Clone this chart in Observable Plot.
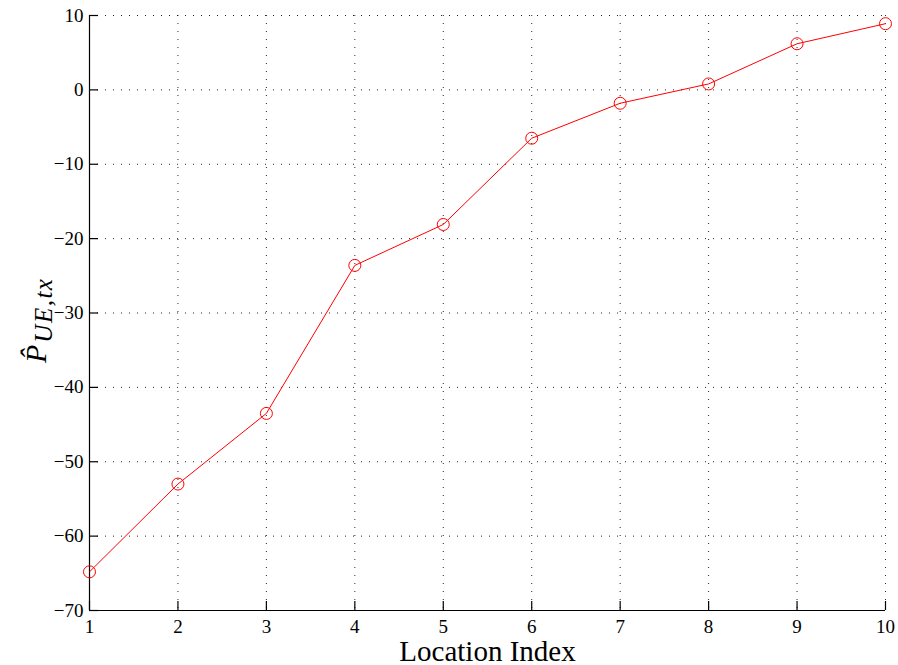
<!DOCTYPE html>
<html>
<head>
<meta charset="utf-8">
<script src="https://cdn.jsdelivr.net/npm/d3@7"></script>
<script src="https://cdn.jsdelivr.net/npm/@observablehq/plot@0.6"></script>
<style>
  html, body { margin: 0; padding: 0; background: #fff; }
  #chart svg { display: block; }
</style>
</head>
<body>
<div id="chart"></div>
<script>
const locations = [1, 2, 3, 4, 5, 6, 7, 8, 9, 10];
const pTx = [-64.8, -53.0, -43.5, -23.6, -18.1, -6.5, -1.8, 0.8, 6.2, 8.9];
const xTicks = [1, 2, 3, 4, 5, 6, 7, 8, 9, 10];
const yTicks = [-70, -60, -50, -40, -30, -20, -10, 0, 10];
const xLabel = ["Location Index"];
const yLabelParts = ["P\u0302", "UE,tx"];

const serif = "Liberation Serif, Times New Roman, serif";
const fmt = d => String(d).replace("-", "\u2212");
const data = locations.map((x, i) => ({x, y: pTx[i]}));

const chart = Plot.plot({
  width: 898,
  height: 665,
  marginLeft: 89,
  marginRight: 13,
  marginTop: 15,
  marginBottom: 55,
  style: {fontFamily: serif, fontSize: "19px", color: "#000", background: "#fff", overflow: "visible"},
  x: {domain: [1, 10], axis: null},
  y: {domain: [-70, 10], axis: null},
  marks: [
    Plot.gridX(xTicks, {stroke: "#000", strokeOpacity: 0.85, strokeWidth: 1, strokeDasharray: "1,7"}),
    Plot.gridY(yTicks, {stroke: "#000", strokeOpacity: 0.85, strokeWidth: 1, strokeDasharray: "1,7"}),
    Plot.text(xTicks, {x: d => d, y: -70, text: fmt, lineAnchor: "top", dy: 9, fontSize: 19, fontFamily: serif, fill: "#000"}),
    Plot.text(yTicks, {x: 1, y: d => d, text: fmt, textAnchor: "end", dx: -6, fontSize: 19, fontFamily: serif, fill: "#000"}),
    Plot.ruleX(xTicks, {x: d => d, y1: -70, y2: -70, insetBottom: 9, stroke: "#000", strokeWidth: 1.2}),
    Plot.ruleY(yTicks, {y: d => d, x1: 1, x2: 1, insetLeft: 9, stroke: "#000", strokeWidth: 1.2}),
    Plot.ruleY([-70], {stroke: "#000", strokeWidth: 1.2}),
    Plot.ruleX([1], {stroke: "#000", strokeWidth: 1.2}),
    Plot.line(data, {x: "x", y: "y", stroke: "#ff0000", strokeWidth: 1}),
    Plot.dot(data, {x: "x", y: "y", r: 6, stroke: "#ff0000", strokeWidth: 1, fill: "none"}),
    Plot.text(xLabel, {text: d => d, frameAnchor: "bottom", dy: 50, fontSize: 29, fontFamily: serif, fill: "#000"})
  ]
});

document.getElementById("chart").appendChild(chart);

// y-axis label with hat and subscript
const svg = d3.select(chart);
const t = svg.append("text")
  .attr("transform", "translate(46,363) rotate(-90)")
  .attr("text-anchor", "start")
  .attr("font-family", serif)
  .attr("font-style", "italic")
  .attr("fill", "#000");
t.append("tspan").attr("font-size", 30).text(yLabelParts[0]);
t.append("tspan").attr("font-size", 25).attr("dy", 6).attr("dx", 2).attr("letter-spacing", 1.5).text(yLabelParts[1]);
</script>
</body>
</html>
